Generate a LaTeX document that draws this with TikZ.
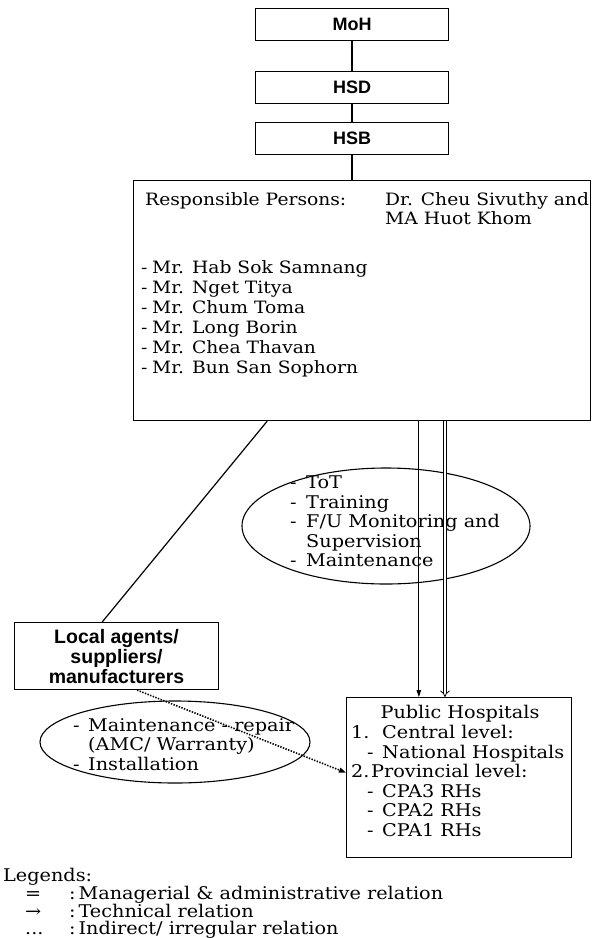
\documentclass[tikz,border=0pt]{standalone}
\usepackage{fontspec}
\setmainfont[FakeStretch=1.1]{DejaVu Serif}
\newfontfamily\hsans{Liberation Sans}
\usetikzlibrary{shapes.geometric,arrows.meta,calc}
\tikzset{
  topbox/.style={draw, line width=1.1pt, minimum width=193pt, minimum height=32pt, anchor=north west, inner sep=0pt, font=\hsans\bfseries\fontsize{18}{20}\selectfont},
  bigbox/.style={draw, line width=1.1pt, anchor=north west, inner sep=0pt},
  txt/.style={anchor=north west, inner sep=0pt, align=left, font=\fontsize{17.5}{19.5}\selectfont},
  mtxt/.style={txt, font=\fontsize{17}{20}\selectfont},
  oval/.style={draw, ellipse, line width=1.1pt, inner sep=0pt},
  link/.style={line width=1.2pt},
  tech/.style={line width=1pt, -{Triangle[length=7pt,width=4.5pt]}},
  manag/.style={double, double distance=2.5pt, line width=0.8pt, -{Implies}},
  indir/.style={line width=1.6pt, dash pattern=on 1.4pt off 1.4pt, -{Triangle[length=7pt,width=5pt]}}
}
\newcommand{\dsh}[1]{\makebox[#1][l]{-}}
\begin{document}
\begin{tikzpicture}[x=1pt,y=-1pt]
\useasboundingbox (0,0) rectangle (598,938);
% top boxes
\node[topbox] (moh) at (255,8) {MoH};
\node[topbox] (hsd) at (255,71) {HSD};
\node[topbox] (hsb) at (255,122) {HSB};
% main box
\node[bigbox, minimum width=457pt, minimum height=240pt] (main) at (133,180) {};
\node[mtxt] (resp) at (145,192) {Responsible Persons:};
\node[mtxt, font=\fontsize{17}{19}\selectfont] (drc) at (385,192) {Dr. Cheu Sivuthy and\\MA Huot Khom};
\node[mtxt] (list) at (141,260) {\dsh{11pt}Mr. Hab Sok Samnang\\\dsh{11pt}Mr. Nget Titya\\\dsh{11pt}Mr. Chum Toma\\\dsh{11pt}Mr. Long Borin\\\dsh{11pt}Mr. Chea Thavan\\\dsh{11pt}Mr. Bun San Sophorn};
% local agents
\node[bigbox, minimum width=204pt, minimum height=67pt, align=center, font=\hsans\bfseries\fontsize{19.5}{20}\selectfont] (local) at (14,622) {Local agents/\\suppliers/\\manufacturers};
% public hospitals
\node[bigbox, minimum width=225pt, minimum height=160pt] (hosp) at (346,697) {};
\node[txt, anchor=north] (hosptitle) at (460,705) {Public Hospitals};
\node[txt] (hosplist) at (351,725) {\makebox[31pt][l]{1.}Central level:\\\hspace*{16pt}\dsh{15pt}National Hospitals\\\makebox[20pt][l]{2.}Provincial level:\\\hspace*{16pt}\dsh{15pt}CPA3 RHs\\\hspace*{16pt}\dsh{15pt}CPA2 RHs\\\hspace*{16pt}\dsh{15pt}CPA1 RHs};
% ellipses
\node[oval, minimum width=288pt, minimum height=116pt] (e1) at (386,526) {};
\node[txt] (e1txt) at (290,476) {\dsh{16pt}ToT\\\dsh{16pt}Training\\\dsh{16pt}F/U Monitoring and\\\hspace*{16pt}Supervision\\\dsh{16pt}Maintenance};
\node[oval, minimum width=270pt, minimum height=82pt] (e2) at (175,742) {};
\node[txt] (e2txt) at (73,718) {\dsh{15pt}Maintenance - repair\\\hspace*{15pt}(AMC/ Warranty)\\\dsh{15pt}Installation};
% connectors
\draw[link] (moh.south) -- (hsd.north);
\draw[link] (hsd.south) -- (hsb.north);
\draw[link] (hsb.south) -- (hsb.south |- main.north);
\coordinate (mA) at ($(main.south west)!0.293!(main.south east)$);
\coordinate (lA) at ($(local.north west)!0.43!(local.north east)$);
\draw[link] (mA) -- (lA);
\coordinate (t1) at ($(main.south west)!0.624!(main.south east)$);
\coordinate (t2) at ($(main.south west)!0.681!(main.south east)$);
\draw[tech] (t1) -- (t1 |- hosp.north);
\draw[manag] (t2) -- (t2 |- hosp.north);
\coordinate (dA) at ($(local.south west)!0.6!(local.south east)$);
\coordinate (dB) at ($(hosp.north west)!0.47!(hosp.south west)$);
\draw[indir] (dA) -- (dB);
% legends
\node[txt, font=\fontsize{17.5}{16.5}\selectfont] (leg) at (3,868) {Legends:\\\hspace*{22pt}\makebox[44pt][l]{=}:\,Managerial \& administrative relation\\\hspace*{22pt}\makebox[44pt][l]{→}:\,Technical relation\\\hspace*{22pt}\makebox[44pt][l]{...}:\,Indirect/ irregular relation};
\end{tikzpicture}
\end{document}
